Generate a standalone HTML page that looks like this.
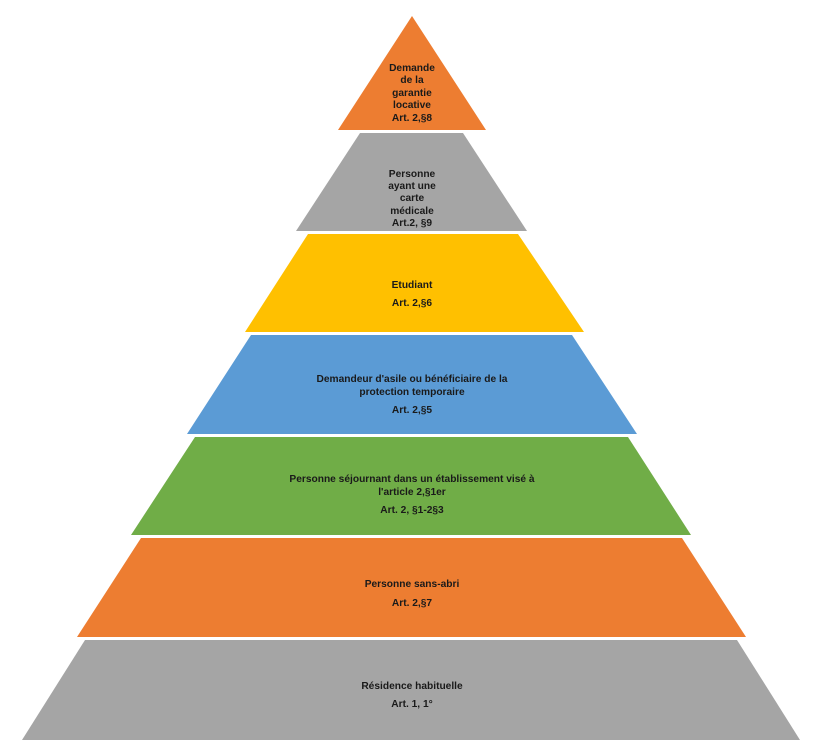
<!DOCTYPE html>
<html><head><meta charset="utf-8"><style>
html,body{margin:0;padding:0;background:#fff;width:817px;height:751px;overflow:hidden}
svg text{font-family:"Liberation Sans",sans-serif;font-weight:bold;font-size:10.2px;fill:#1a1a1a;text-anchor:middle}
</style></head><body>
<svg width="817" height="751" viewBox="0 0 817 751">
<polygon points="412,16 486,130 338,130" fill="#ED7D31"/>
<polygon points="360,133 463,133 527,231 296,231" fill="#A5A5A5"/>
<polygon points="308,234 518,234 584,332 245,332" fill="#FFC000"/>
<polygon points="251,335 572,335 637,434 187,434" fill="#5B9BD5"/>
<polygon points="195,437 628,437 691,535 131,535" fill="#70AD47"/>
<polygon points="141,538 682,538 746,637 77,637" fill="#ED7D31"/>
<polygon points="85,640 737,640 800,740 22,740" fill="#A5A5A5"/>
<text x="412" y="71">Demande</text>
<text x="412" y="83">de la</text>
<text x="412" y="96">garantie</text>
<text x="412" y="108">locative</text>
<text x="412" y="121">Art. 2,§8</text>
<text x="412" y="177">Personne</text>
<text x="412" y="189">ayant une</text>
<text x="412" y="201">carte</text>
<text x="412" y="214">médicale</text>
<text x="412" y="226">Art.2, §9</text>
<text x="412" y="288">Etudiant</text>
<text x="412" y="306">Art. 2,§6</text>
<text x="412" y="382">Demandeur d'asile ou bénéficiaire de la</text>
<text x="412" y="395">protection temporaire</text>
<text x="412" y="413">Art. 2,§5</text>
<text x="412" y="482">Personne séjournant dans un établissement visé à</text>
<text x="412" y="495">l'article 2,§1er</text>
<text x="412" y="513">Art. 2, §1-2§3</text>
<text x="412" y="587">Personne sans-abri</text>
<text x="412" y="606">Art. 2,§7</text>
<text x="412" y="689">Résidence habituelle</text>
<text x="412" y="707">Art. 1, 1°</text>
</svg>
</body></html>
